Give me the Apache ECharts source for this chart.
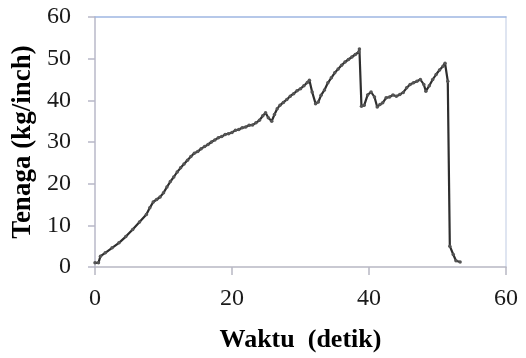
<!DOCTYPE html>
<html>
<head>
<meta charset="utf-8">
<script src="https://cdn.jsdelivr.net/npm/echarts@6/dist/echarts.min.js"></script>
<style>
  html, body { margin: 0; padding: 0; background: #fff; }
  #chart { width: 526px; height: 358px; }
</style>
</head>
<body>
<div id="chart"></div>
<script>
// waktu (detik) dan tenaga (kg/inch)
var waktu = [0, 0.5, 0.8, 1.5, 2.5, 3.5, 4.5, 5.5, 6.5, 7.5, 8.0, 8.5, 9.0, 9.5, 10.0,
  10.5, 11.0, 11.5, 12.0, 12.5, 13.0, 13.5, 14.0, 14.5, 15.0, 15.5, 16.0, 16.5, 17.0,
  17.5, 18.0, 18.5, 19.0, 19.5, 20.0, 20.5, 21.0, 21.5, 22.0, 22.5, 23.0, 23.5, 24.0,
  24.5, 24.9, 25.3, 25.8, 26.2, 26.6, 27.0, 27.5, 28.0, 28.5, 29.0, 29.5, 30.0, 30.5,
  31.0, 31.3, 31.7, 32.2, 32.6, 33.0, 33.5, 34.0, 34.5, 35.0, 35.5, 36.0, 36.5, 37.0,
  37.5, 38.0, 38.5, 38.6, 38.9, 39.3, 39.8, 40.3, 40.8, 41.2, 41.6, 42.0, 42.5, 43.0,
  43.5, 44.0, 44.5, 45.0, 45.5, 46.0, 46.5, 47.0, 47.5, 48.0, 48.3, 48.8, 49.3, 49.8,
  50.3, 50.8, 51.1, 51.5, 51.8, 52.3, 52.7, 53.3];
var tenaga = [1.0, 1.0, 2.6, 3.4, 4.6, 5.8, 7.3, 9.0, 10.8, 12.6, 14.2, 15.6, 16.2, 16.8, 17.8,
  19.2, 20.5, 21.6, 22.8, 23.8, 24.7, 25.6, 26.5, 27.3, 27.7, 28.4, 28.9, 29.4, 30.0,
  30.5, 31.0, 31.3, 31.8, 32.0, 32.3, 32.8, 33.0, 33.4, 33.6, 34.0, 34.1, 34.6, 35.2,
  36.3, 37.0, 35.8, 35.0, 36.6, 38.0, 38.8, 39.5, 40.2, 41.0, 41.6, 42.3, 42.8, 43.5,
  44.3, 44.8, 42.0, 39.2, 39.6, 41.2, 42.5, 44.2, 45.4, 46.6, 47.5, 48.4, 49.2, 49.8,
  50.4, 51.0, 51.6, 52.3, 38.6, 38.8, 41.3, 42.0, 40.8, 38.4, 39.0, 39.4, 40.6, 40.8,
  41.3, 41.0, 41.4, 41.9, 43.0, 43.8, 44.2, 44.6, 45.0, 43.8, 42.2, 43.5, 45.0, 46.2,
  47.3, 48.2, 48.9, 44.6, 5.0, 3.0, 1.5, 1.2];
var xTicks = [0, 20, 40, 60];
var yTicks = [0, 10, 20, 30, 40, 50, 60];

var data = waktu.map(function (w, i) { return [w, tenaga[i]]; });

var chart = echarts.init(document.getElementById('chart'));
var serif = '"Liberation Serif", "Times New Roman", serif';

var option = {
  animation: false,
  backgroundColor: '#fff',
  grid: { left: 95, right: 20, top: 17, bottom: 89 },
  xAxis: [{
    type: 'value',
    min: xTicks[0], max: xTicks[xTicks.length - 1], interval: 20,
    name: 'Waktu  (detik)',
    nameLocation: 'middle',
    nameGap: 60,
    nameTextStyle: { fontFamily: serif, fontSize: 26, fontWeight: 'bold', color: '#000' },
    axisLine: { show: true, lineStyle: { color: '#b8b8c4', width: 1.5 } },
    axisTick: { show: true, inside: false, length: 8, lineStyle: { color: '#b8b8c4', width: 1.5 } },
    axisLabel: { fontFamily: serif, fontSize: 24, color: '#1a1a1a', margin: 20 },
    splitLine: { show: false }
  }, {
    type: 'value',
    position: 'top',
    min: 0, max: 60,
    axisLine: { show: true, onZero: false, lineStyle: { color: '#9fb6e2', width: 1.5 } },
    axisTick: { show: false },
    axisLabel: { show: false },
    splitLine: { show: false }
  }],
  yAxis: [{
    type: 'value',
    min: yTicks[0], max: yTicks[yTicks.length - 1], interval: 10,
    name: 'Tenaga (kg/inch)',
    nameLocation: 'middle',
    nameGap: 56,
    nameTextStyle: { fontFamily: serif, fontSize: 27, fontWeight: 'bold', color: '#000' },
    axisLine: { show: true, lineStyle: { color: '#b8b8c8', width: 1.5 } },
    axisTick: { show: true, inside: false, length: 7, lineStyle: { color: '#b8b8c8', width: 1.5 } },
    axisLabel: { fontFamily: serif, fontSize: 24, color: '#1a1a1a', margin: 24 },
    splitLine: { show: false }
  }, {
    type: 'value',
    position: 'right',
    min: 0, max: 60,
    axisLine: { show: true, onZero: false, lineStyle: { color: '#d4dcec', width: 1.5 } },
    axisTick: { show: false },
    axisLabel: { show: false },
    splitLine: { show: false }
  }],
  series: [{
    type: 'line',
    data: data,
    xAxisIndex: 0,
    yAxisIndex: 0,
    symbol: 'circle',
    symbolSize: 3.5,
    showSymbol: true,
    itemStyle: { color: '#555' },
    lineStyle: { color: '#2e2e2e', width: 2.2 }
  }]
};

chart.setOption(option);
</script>
</body>
</html>
